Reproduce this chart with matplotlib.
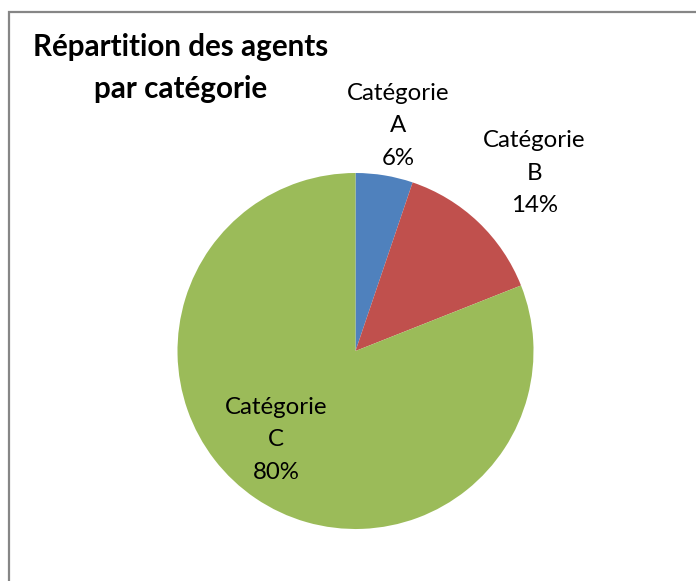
import matplotlib
matplotlib.use("Agg")
import matplotlib.pyplot as plt
from matplotlib.patches import Rectangle

categories = ["Catégorie\nA", "Catégorie\nB", "Catégorie\nC"]
values = [5.2, 13.8, 81.0]
pct_labels = ["6%", "14%", "80%"]
colors = ["#4F81BD", "#C0504D", "#9BBB59"]
title = "Répartition des agents\npar catégorie"

# label positions in pie data coordinates (radius = 1)
label_pos = [(0.24, 1.265), (1.005, 1.0), (-0.445, -0.50)]

W, H = 696, 581
fig = plt.figure(figsize=(W / 100, H / 100), dpi=100)
fig.patch.set_facecolor("white")

# outer chart border
fig.add_artist(Rectangle((8.5 / W, -0.1), 1.2, (H - 11.5) / H + 0.1,
                         transform=fig.transFigure, fill=False,
                         edgecolor="#868686", linewidth=1.6))

cx, cy, r = 355.5, 351, 178
ax = fig.add_axes([(cx - r) / W, (H - cy - r) / H, 2 * r / W, 2 * r / H])
ax.pie(values, colors=colors, startangle=90, counterclock=False,
       radius=1, wedgeprops=dict(linewidth=0))
ax.set_xlim(-1, 1)
ax.set_ylim(-1, 1)
ax.set_aspect("equal")
ax.axis("off")

fam = ["Lato", "DejaVu Sans"]
for cat, pct, (x, y) in zip(categories, pct_labels, label_pos):
    ax.text(x, y, cat + "\n" + pct, ha="center", va="center",
            fontsize=17.3, family=fam, linespacing=1.66, color="#000000")

fig.text(181 / W, 1 - 68 / H, title, ha="center", va="center",
         fontsize=21.3, fontweight="bold", family=fam, linespacing=1.58)

fig.savefig("out.png", dpi=100, facecolor="white")
